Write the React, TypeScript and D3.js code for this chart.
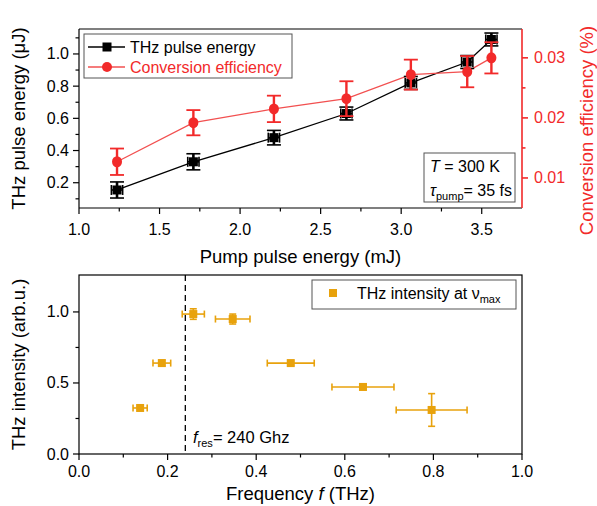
import React from "react";
import * as d3 from "d3";

// top panel data
const pumpEnergy = [1.236, 1.71, 2.21, 2.66, 3.06, 3.41, 3.56];
const pumpErr = [0.035, 0.035, 0.035, 0.035, 0.035, 0.035, 0.035];
const thzEnergy = [0.155, 0.33, 0.48, 0.63, 0.82, 0.95, 1.09];
const thzEnergyErr = [0.05, 0.05, 0.045, 0.04, 0.04, 0.04, 0.04];
const efficiency = [0.0127, 0.0192, 0.0215, 0.0232, 0.0272, 0.0277, 0.0300];
const efficiencyErr = [0.0022, 0.0021, 0.0022, 0.0029, 0.0025, 0.0026, 0.0026];

// bottom panel data
const freq = [0.138, 0.187, 0.258, 0.347, 0.478, 0.641, 0.796];
const freqErr = [0.016, 0.02, 0.025, 0.039, 0.053, 0.07, 0.08];
const intensity = [0.324, 0.64, 0.985, 0.95, 0.64, 0.472, 0.31];
const intensityErr = [0.012, 0.02, 0.037, 0.035, 0.015, 0.02, 0.115];
const fRes = 0.24;

const xTicksTop = [1.0, 1.5, 2.0, 2.5, 3.0, 3.5];
const yTicksLeft = [0.2, 0.4, 0.6, 0.8, 1.0];
const yTicksRight = [0.01, 0.02, 0.03];
const xTicksBottom = [0, 0.2, 0.4, 0.6, 0.8, 1.0];
const yTicksBottom = [0, 0.5, 1.0];

const RED = "#f22a2a";
const RED_LINE = "#f25050";
const ORANGE = "#e8a20c";
const FONT = "'Liberation Sans', Arial, sans-serif";

export default function App() {
  const L = 79, R = 522;
  const topT = 29, topB = 208;
  const botT = 275, botB = 454;

  const x1 = d3.scaleLinear().domain([1.0, 3.75]).range([L, R]);
  const yL = d3.scaleLinear().domain([0.043, 1.155]).range([topB, topT]);
  const yR = d3.scaleLinear().domain([0.005, 0.0348]).range([topB, topT]);
  const x2 = d3.scaleLinear().domain([0, 1]).range([L, R]);
  const y2 = d3.scaleLinear().domain([0, 1.26]).range([botB, botT]);

  const lineBlack = d3.line<number>().x((_, i) => x1(pumpEnergy[i])).y(d => yL(d));
  const lineRed = d3.line<number>().x((_, i) => x1(pumpEnergy[i])).y(d => yR(d));

  const minorTop = d3.range(1.25, 3.75, 0.5);
  const minorLeft = [0.1, 0.3, 0.5, 0.7, 0.9, 1.1];
  const minorRight = [0.015, 0.025];
  const minorX2 = [0.1, 0.3, 0.5, 0.7, 0.9];
  const minorY2 = [0.25, 0.75];

  const fmt1 = d3.format(".1f");
  const fmt2 = d3.format(".2f");

  return (
    <svg width={597} height={506} style={{ position: "absolute", left: 0, top: 0, fontFamily: FONT }}>
      <rect width={597} height={506} fill="#fff" />

      {/* ===== top panel ===== */}
      <path d={lineBlack(thzEnergy) || ""} fill="none" stroke="#000" strokeWidth={1.3} />
      <path d={lineRed(efficiency) || ""} fill="none" stroke={RED_LINE} strokeWidth={1.3} />

      {/* black error bars + squares */}
      {thzEnergy.map((v, i) => {
        const cx = x1(pumpEnergy[i]);
        const cy = yL(v);
        const xa = x1(pumpEnergy[i] - pumpErr[i]);
        const xb = x1(pumpEnergy[i] + pumpErr[i]);
        const ya = yL(v - thzEnergyErr[i]);
        const yb = yL(v + thzEnergyErr[i]);
        return (
          <g key={"b" + i} stroke="#000" strokeWidth={1.6}>
            <line x1={xa} x2={xb} y1={cy} y2={cy} />
            <line x1={xa} x2={xa} y1={cy - 5} y2={cy + 5} />
            <line x1={xb} x2={xb} y1={cy - 5} y2={cy + 5} />
            <line x1={cx} x2={cx} y1={ya} y2={yb} strokeWidth={2.6} />
            <line x1={cx - 7} x2={cx + 7} y1={ya} y2={ya} />
            <line x1={cx - 7} x2={cx + 7} y1={yb} y2={yb} />
            <rect x={cx - 4.5} y={cy - 4.5} width={9} height={9} fill="#000" stroke="none" />
          </g>
        );
      })}

      {/* red error bars + circles */}
      {efficiency.map((v, i) => {
        const cx = x1(pumpEnergy[i]);
        const cy = yR(v);
        const ya = yR(v - efficiencyErr[i]);
        const yb = yR(v + efficiencyErr[i]);
        return (
          <g key={"r" + i} stroke={RED} strokeWidth={1.8}>
            <line x1={cx} x2={cx} y1={ya} y2={yb} strokeWidth={2.4} />
            <line x1={cx - 7} x2={cx + 7} y1={ya} y2={ya} />
            <line x1={cx - 7} x2={cx + 7} y1={yb} y2={yb} />
            <ellipse cx={cx} cy={cy} rx={5} ry={5.5} fill={RED} stroke="none" />
          </g>
        );
      })}

      {/* frame top */}
      <line x1={L} x2={R} y1={topT} y2={topT} stroke="#000" strokeWidth={1.2} />
      <line x1={L} x2={R} y1={topB} y2={topB} stroke="#000" strokeWidth={1.2} />
      <line x1={L} x2={L} y1={topT} y2={topB} stroke="#000" strokeWidth={1.2} />
      <line x1={R} x2={R} y1={topT} y2={topB} stroke={RED} strokeWidth={1.6} />

      {/* top x ticks */}
      {xTicksTop.map(t => (
        <g key={"xt" + t}>
          <line x1={x1(t)} x2={x1(t)} y1={topB} y2={topB + 6} stroke="#000" strokeWidth={1.2} />
          <text x={x1(t)} y={235} textAnchor="middle" fontSize={16}>{fmt1(t)}</text>
        </g>
      ))}
      {minorTop.map(t => (
        <line key={"xm" + t} x1={x1(t)} x2={x1(t)} y1={topB} y2={topB + 3.5} stroke="#000" strokeWidth={1.2} />
      ))}
      <text x={x1(2.375)} y={263} textAnchor="middle" fontSize={18.5}>Pump pulse energy (mJ)</text>

      {/* left y ticks */}
      {yTicksLeft.map(t => (
        <g key={"yl" + t}>
          <line x1={L - 6} x2={L} y1={yL(t)} y2={yL(t)} stroke="#000" strokeWidth={1.2} />
          <text x={L - 10} y={yL(t) + 5.5} textAnchor="end" fontSize={16}>{fmt1(t)}</text>
        </g>
      ))}
      {minorLeft.map(t => (
        <line key={"ylm" + t} x1={L - 3.5} x2={L} y1={yL(t)} y2={yL(t)} stroke="#000" strokeWidth={1.2} />
      ))}
      <text transform={`translate(25,${(topT + topB) / 2}) rotate(-90)`} textAnchor="middle" fontSize={18.5}>
        THz pulse energy (μJ)
      </text>

      {/* right y ticks */}
      {yTicksRight.map(t => (
        <g key={"yr" + t}>
          <line x1={R} x2={R + 6} y1={yR(t)} y2={yR(t)} stroke={RED} strokeWidth={1.6} />
          <text x={R + 12} y={yR(t) + 5.5} fontSize={16} fill={RED}>{fmt2(t)}</text>
        </g>
      ))}
      {minorRight.map(t => (
        <line key={"yrm" + t} x1={R} x2={R + 3.5} y1={yR(t)} y2={yR(t)} stroke={RED} strokeWidth={1.6} />
      ))}
      <text transform={`translate(593,${(topT + topB) / 2 + 12}) rotate(-90)`} textAnchor="middle" fontSize={18.5} fill={RED}>
        Conversion efficiency (%)
      </text>

      {/* top legend */}
      <rect x={84} y={34} width={208} height={44} fill="#fff" stroke="#555" strokeWidth={1} />
      <line x1={88} x2={125} y1={47} y2={47} stroke="#000" strokeWidth={1.3} />
      <rect x={102.5} y={42.5} width={9} height={9} fill="#000" />
      <text x={130} y={52.5} fontSize={16}>THz pulse energy</text>
      <line x1={88} x2={125} y1={67} y2={67} stroke={RED_LINE} strokeWidth={1.3} />
      <circle cx={107} cy={67} r={5} fill={RED} />
      <text x={130} y={72.5} fontSize={16} fill={RED}>Conversion efficiency</text>

      {/* annotation box */}
      <rect x={424} y={153} width={91} height={49} fill="#fff" stroke="#555" strokeWidth={1} />
      <text x={430} y={172} fontSize={16}>
        <tspan fontStyle="italic">T</tspan> = 300 K
      </text>
      <text x={430} y={196} fontSize={16}>
        <tspan fontStyle="italic">τ</tspan>
        <tspan fontSize={11} dy={4}>pump</tspan>
        <tspan dy={-4}>= 35 fs</tspan>
      </text>

      {/* ===== bottom panel ===== */}
      <line x1={x2(fRes)} x2={x2(fRes)} y1={botT} y2={botB} stroke="#000" strokeWidth={1.3} strokeDasharray="6,4" />

      {intensity.map((v, i) => {
        const cx = x2(freq[i]);
        const cy = y2(v);
        const xa = x2(freq[i] - freqErr[i]);
        const xb = x2(freq[i] + freqErr[i]);
        const ya = y2(v - intensityErr[i]);
        const yb = y2(v + intensityErr[i]);
        return (
          <g key={"o" + i} stroke={ORANGE} strokeWidth={1.6}>
            <line x1={xa} x2={xb} y1={cy} y2={cy} />
            <line x1={xa} x2={xa} y1={cy - 3.5} y2={cy + 3.5} />
            <line x1={xb} x2={xb} y1={cy - 3.5} y2={cy + 3.5} />
            <line x1={cx} x2={cx} y1={ya} y2={yb} />
            <line x1={cx - 3.5} x2={cx + 3.5} y1={ya} y2={ya} />
            <line x1={cx - 3.5} x2={cx + 3.5} y1={yb} y2={yb} />
            <rect x={cx - 4} y={cy - 4} width={8} height={8} fill={ORANGE} stroke="none" />
          </g>
        );
      })}

      <rect x={L} y={botT} width={R - L} height={botB - botT} fill="none" stroke="#000" strokeWidth={1.2} />

      {xTicksBottom.map(t => (
        <g key={"xb" + t}>
          <line x1={x2(t)} x2={x2(t)} y1={botB} y2={botB + 6} stroke="#000" strokeWidth={1.2} />
          <text x={x2(t)} y={477} textAnchor="middle" fontSize={16}>{fmt1(t)}</text>
        </g>
      ))}
      {minorX2.map(t => (
        <line key={"xbm" + t} x1={x2(t)} x2={x2(t)} y1={botB} y2={botB + 3.5} stroke="#000" strokeWidth={1.2} />
      ))}
      <text x={(L + R) / 2} y={500} textAnchor="middle" fontSize={18.5}>
        Frequency <tspan fontStyle="italic">f</tspan> (THz)
      </text>

      {yTicksBottom.map(t => (
        <g key={"yb" + t}>
          <line x1={L - 6} x2={L} y1={y2(t)} y2={y2(t)} stroke="#000" strokeWidth={1.2} />
          <text x={L - 10} y={y2(t) + 5.5} textAnchor="end" fontSize={16}>{fmt1(t)}</text>
        </g>
      ))}
      {minorY2.map(t => (
        <line key={"ybm" + t} x1={L - 3.5} x2={L} y1={y2(t)} y2={y2(t)} stroke="#000" strokeWidth={1.2} />
      ))}
      <text transform={`translate(25,${(botT + botB) / 2}) rotate(-90)`} textAnchor="middle" fontSize={18.5}>
        THz intensity (arb.u.)
      </text>

      <text x={193} y={443} fontSize={16.5}>
        <tspan fontStyle="italic">f</tspan>
        <tspan fontSize={11} dy={4}>res</tspan>
        <tspan dy={-4}>= 240 Ghz</tspan>
      </text>

      {/* bottom legend */}
      <rect x={312} y={280} width={204} height={29} fill="#fff" stroke="#555" strokeWidth={1} />
      <rect x={329} y={289} width={8} height={8} fill={ORANGE} />
      <text x={357} y={299} fontSize={16}>
        THz intensity at ν<tspan fontSize={11} dy={4}>max</tspan>
      </text>
    </svg>
  );
}
